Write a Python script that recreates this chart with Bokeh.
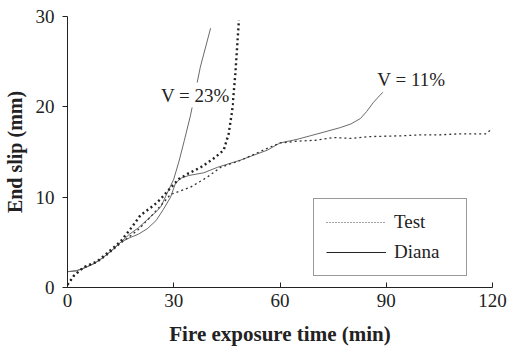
from bokeh.plotting import figure
from bokeh.models import Range1d, FixedTicker, Legend, LegendItem, Label
from bokeh.embed import file_html
from bokeh.resources import INLINE

# ---- data ----
diana23_t = [0, 2.5, 5, 7.5, 10, 12.5, 15, 17.5, 20, 22.5, 24.5, 26.3, 28.1, 30, 31.5, 33, 34.7, 37.5, 40.4]
diana23_s = [1.75, 1.85, 2.2, 2.65, 3.3, 4.1, 5.0, 5.9, 6.6, 7.5, 8.2, 8.9, 10.4, 12.0, 14.0, 16.3, 19.0, 24.4, 28.7]

diana11_t = [0, 2.5, 5, 7.5, 10, 12.5, 15, 17.5, 20, 22.5, 25, 27, 29.1, 30.5, 32, 34.3, 38.5, 42.3,
             48.8, 56.4, 60, 64.8, 68.6, 73.3, 77, 80, 82.7, 84.5, 86.4, 88.5, 90.3]
diana11_s = [1.75, 1.85, 2.2, 2.65, 3.3, 4.1, 5.0, 5.5, 5.9, 6.5, 7.4, 8.6, 10.0, 11.55, 12.1, 12.4, 12.7, 13.3,
             14.1, 15.2, 16.0, 16.4, 16.8, 17.3, 17.7, 18.1, 18.7, 19.5, 20.5, 21.4, 22.1]

test23_t = [0, 1.8, 4.6, 8.4, 11.2, 15, 18, 20.6, 24.4, 26.3, 28.1, 31.4, 34, 37.6, 41, 44.1, 45.5, 46.5, 47.4, 48.4]
test23_s = [0.3, 1.3, 2.25, 2.9, 3.8, 5.1, 6.6, 8.0, 9.1, 9.8, 10.6, 12.0, 12.6, 13.3, 14.2, 15.2, 17.0, 19.6, 23.7, 29.6]

test11_t = [0, 1.8, 4.6, 8.4, 11.2, 15, 19.7, 23.4, 27.2, 29.1, 31.9, 34.7, 39.4, 43.2, 48.8, 56.4, 60, 65,
            70, 75, 80, 85, 90, 95, 100, 105, 110, 115, 118, 119, 120]
test11_s = [0.3, 1.3, 2.25, 2.8, 3.6, 4.9, 6.3, 7.8, 9.45, 10.3, 10.7, 11.1, 12.2, 13.3, 14.06, 15.4, 16.0, 16.2,
            16.3, 16.6, 16.5, 16.7, 16.75, 16.8, 16.9, 16.9, 17.0, 17.0, 17.0, 17.3, 17.6]

x_ticks = [0, 30, 60, 90, 120]
y_ticks = [0, 10, 20, 30]
labels_text = ["V = 23%", "V = 11%"]
labels_x = [36.1, 97.1]
labels_y = [21.3, 23.0]
legend_names = ["Test", "Diana"]

FONT = "Liberation Serif"
NAN = float("nan")

p = figure(frame_width=425, frame_height=271, output_backend="svg", toolbar_location=None,
           x_range=Range1d(0, 120), y_range=Range1d(0, 30),
           min_border_left=67, min_border_right=15, min_border_top=16, min_border_bottom=71)
p.outline_line_color = None
p.xgrid.visible = False
p.ygrid.visible = False
p.background_fill_color = "white"
p.border_fill_color = "white"

d23 = p.line(diana23_t, diana23_s, line_color="#6a6a6a", line_width=1)
d11 = p.line(diana11_t, diana11_s, line_color="#6a6a6a", line_width=1)
t11 = p.line(test11_t, test11_s, line_color="#333333", line_width=1.3, line_dash="2 3")
t23 = p.line(test23_t, test23_s, line_color="#222222", line_width=2.4, line_dash="2 3")

# legend-only renderers (no visible points in the plot area)
leg_test = p.line([NAN, NAN], [NAN, NAN], line_color="#444444", line_width=1, line_dash="1 2")
leg_diana = p.line([NAN, NAN], [NAN, NAN], line_color="#222222", line_width=1)

for txt, lx, ly in zip(labels_text, labels_x, labels_y):
    p.add_layout(Label(x=lx, y=ly, text=txt, text_align="center", text_baseline="middle",
                       text_font=FONT, text_font_size="19px", text_color="#222222",
                       background_fill_color="white", background_fill_alpha=1,
                       padding=2))

legend = Legend(items=[LegendItem(label=legend_names[0], renderers=[leg_test]),
                       LegendItem(label=legend_names[1], renderers=[leg_diana])],
                location=(246, 11), orientation="vertical",
                border_line_color="#333333", border_line_width=1,
                background_fill_alpha=1, padding=12, spacing=8,
                glyph_width=60, glyph_height=22, label_standoff=8, label_width=60,
                label_text_font=FONT, label_text_font_size="19px", label_text_color="#222222",
                margin=0)
p.add_layout(legend, "center")

# axes
xa = p.xaxis[0]
xa.ticker = FixedTicker(ticks=x_ticks)
xa.minor_tick_line_color = None
xa.major_tick_in = 5
xa.major_tick_out = 0
xa.major_label_standoff = 6
xa.axis_line_color = "#222222"
xa.major_tick_line_color = "#222222"
xa.major_label_text_font = FONT
xa.major_label_text_font_size = "19px"
xa.major_label_text_color = "#222222"
xa.axis_label = "Fire exposure time (min)"
xa.axis_label_text_font = FONT
xa.axis_label_text_font_style = "bold"
xa.axis_label_text_font_size = "21px"
xa.axis_label_text_color = "#222222"
xa.axis_label_standoff = 12

ya = p.yaxis[0]
ya.ticker = FixedTicker(ticks=y_ticks)
ya.minor_tick_line_color = None
ya.major_tick_in = 0
ya.major_tick_out = 5
ya.major_label_standoff = 8
ya.axis_line_color = "#222222"
ya.major_tick_line_color = "#222222"
ya.major_label_text_font = FONT
ya.major_label_text_font_size = "19px"
ya.major_label_text_color = "#222222"
ya.axis_label = "End slip (mm)"
ya.axis_label_text_font = FONT
ya.axis_label_text_font_style = "bold"
ya.axis_label_text_font_size = "20px"
ya.axis_label_text_color = "#222222"
ya.axis_label_standoff = 7

open("out.html", "w").write(file_html(p, INLINE))
